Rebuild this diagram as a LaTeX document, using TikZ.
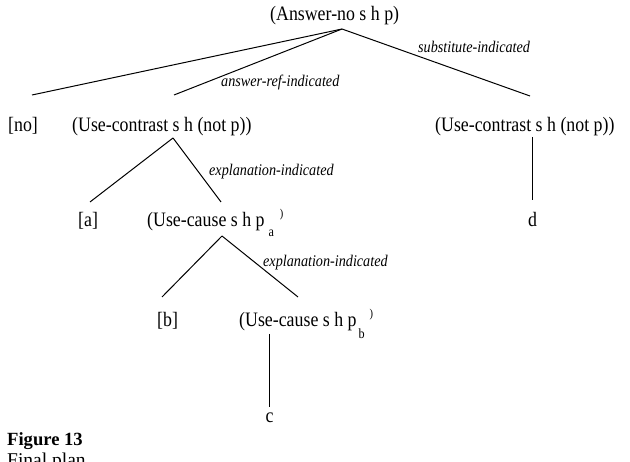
\documentclass[tikz,border=0pt]{standalone}
\usepackage{fontspec}
\setmainfont{Liberation Serif}[FakeStretch=0.87]
\newfontfamily\capfont{Liberation Serif}
\begin{document}
\begin{tikzpicture}[x=1pt,y=-1pt,
  txt/.style={inner sep=0pt,anchor=base west,font=\fontsize{20.5}{22}\selectfont},
  lbl/.style={inner sep=0pt,anchor=base west,font=\fontsize{16.3}{18}\selectfont\itshape},
  ctr/.style={inner sep=0pt,anchor=base,font=\fontsize{20.5}{22}\selectfont},
  edge/.style={draw=black,line width=1pt}]
\useasboundingbox (0,0) rectangle (630,462);
\fill[white] (0,0) rectangle (630,462);
% nodes
\node[txt] (root) at (270,21) {(Answer-no s h p)};
\node[txt] (no) at (8,132) {[no]};
\node[txt] (uc1) at (72,132) {(Use-contrast s h (not p))};
\node[txt] (uc2) at (435,132) {(Use-contrast s h (not p))};
\node[txt] (a) at (78,227) {[a]};
\node[txt] (ucA) at (147,227) {(Use-cause s h p\hspace{4pt}\raisebox{-10pt}{\fontsize{14}{14}\selectfont a}\hspace{6pt}\raisebox{9pt}{\fontsize{12}{12}\selectfont )}};
\node[txt] (b) at (157,327) {[b]};
\node[txt] (ucB) at (239,327) {(Use-cause s h p\hspace{2pt}\raisebox{-12pt}{\fontsize{14}{14}\selectfont b}\hspace{5pt}\raisebox{9pt}{\fontsize{12}{12}\selectfont )}};
\node[ctr] (c) at (269.5,423) {c};
\node[ctr] (d) at (532.5,227) {d};
% labels
\node[lbl] (l1) at (418,53) {substitute-indicated};
\node[lbl] (l2) at (221,87) {answer-ref-indicated};
\node[lbl] (l3) at (209,176) {explanation-indicated};
\node[lbl] (l4) at (263,267) {explanation-indicated};
% caption
\node[inner sep=0pt,anchor=base west,font=\capfont\fontsize{18.6}{20}\selectfont\bfseries] (fig) at (7,446) {Figure 13};
\node[inner sep=0pt,anchor=base west,font=\capfont\fontsize{19.5}{20}\selectfont] (fp) at (7,467) {Final plan};
% connection points
\coordinate (r0) at (342,29);
\coordinate (rNo) at (32,95);
\coordinate (rUc1) at (174,95);
\coordinate (rUc2) at (530,96);
\coordinate (u1) at (173,138);
\coordinate (u1a) at (90,202);
\coordinate (u1b) at (221,202);
\coordinate (u2) at (532.5,137);
\coordinate (u2d) at (532.5,200);
\coordinate (pA) at (222,236);
\coordinate (pAb) at (162,297);
\coordinate (pAc) at (298,297);
\coordinate (pB) at (269.5,334);
\coordinate (pBc) at (269.5,407);
% connectors
\draw[edge] (r0) -- (rNo);
\draw[edge] (r0) -- (rUc1);
\draw[edge] (r0) -- (rUc2);
\draw[edge] (u1) -- (u1a);
\draw[edge] (u1) -- (u1b);
\draw[edge] (u2) -- (u2d);
\draw[edge] (pA) -- (pAb);
\draw[edge] (pA) -- (pAc);
\draw[edge] (pB) -- (pBc);
\end{tikzpicture}
\end{document}
